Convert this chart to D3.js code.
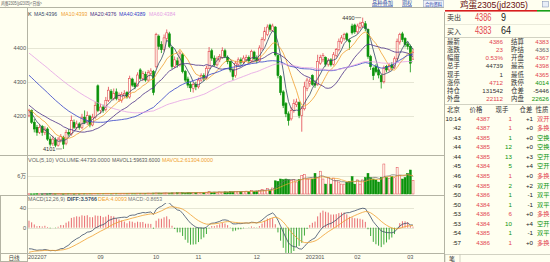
<!DOCTYPE html>
<html>
<head>
<meta charset="utf-8">
<script src="https://cdn.jsdelivr.net/npm/d3@7"></script>
<style>
html, body { margin: 0; padding: 0; background: #fffff0; }
svg { display: block; font-family: "Liberation Sans", "Noto Sans CJK SC", sans-serif; }
</style>
</head>
<body>
<svg id="chart" width="550" height="262"></svg>
<script>
// ---- data ----
const monthLabels = ["202207", "09", "10", "11", "12", "202301", "02", "03"];
const monthStarts = [0, 27, 48, 64, 86, 108, 124, 144];

// closes before the visible window, only used to warm up MA / MACD
const priorCloses = [
  4540,4545,4535,4550,4530,4525,4520,4535,4515,4510,
  4520,4505,4500,4515,4505,4495,4500,4490,4485,4500,
  4470,4465,4455,4460,4440,4445,4430,4420,4425,4410,
  4400,4405,4390,4380,4385,4370,4365,4360,4345,4335,
  4310,4290,4275,4260,4250,4240,4225,4215,4200,4195,
  4205,4220,4230,4215,4225,4210,4220,4215,4200
];

const opens = [
  4200,4215,4180,4165,4150,4168,4150,4160,4130,4118,
  4128,4112,4128,4135,4118,4150,4145,4180,4165,4175,
  4165,4195,4180,4198,4172,4195,4288,4215,4225,4218,
  4245,4272,4250,4270,4248,4245,4258,4268,4255,4308,
  4295,4288,4335,4310,4322,4305,4325,4330,4345,4435,
  4410,4395,4428,4442,4402,4345,4362,4350,4380,4330,
  4308,4292,4280,4292,4285,4305,4318,4312,4340,4392,
  4370,4350,4365,4372,4392,4372,4360,4335,4318,4352,
  4365,4358,4365,4372,4362,4388,4370,4362,4398,4425,
  4440,4468,4452,4462,4378,4315,4270,4235,4205,4190,
  4215,4232,4238,4200,4220,4280,4295,4318,4295,4292,
  4355,4365,4372,4352,4365,4352,4378,4395,4418,4428,
  4442,4422,4465,4468,4448,4460,4465,4472,4455,4375,
  4340,4345,4335,4318,4300,4345,4335,4350,4342,4368,
  4418,4442,4428,4412,4405,4367
];
const highs = [
  4220,4218,4190,4172,4175,4172,4168,4165,4138,4140,
  4135,4136,4145,4140,4158,4160,4200,4188,4185,4180,
  4205,4215,4212,4202,4205,4240,4292,4235,4232,4255,
  4285,4278,4280,4280,4268,4270,4275,4272,4318,4312,
  4300,4328,4340,4332,4330,4335,4340,4335,4445,4440,
  4420,4440,4455,4448,4405,4375,4372,4392,4385,4335,
  4315,4300,4298,4300,4312,4325,4325,4348,4403,4398,
  4378,4375,4382,4402,4398,4378,4362,4340,4362,4372,
  4372,4378,4380,4378,4395,4392,4378,4408,4432,4462,
  4470,4472,4472,4465,4382,4320,4275,4240,4212,4225,
  4248,4250,4242,4228,4300,4312,4310,4322,4305,4380,
  4380,4385,4375,4370,4370,4388,4400,4428,4438,4445,
  4446,4428,4472,4472,4472,4478,4490,4480,4458,4380,
  4345,4352,4340,4322,4348,4350,4355,4358,4375,4428,
  4445,4448,4432,4418,4410,4398
];
const lows = [
  4195,4175,4150,4140,4145,4140,4142,4125,4108,4110,
  4106,4108,4120,4101,4112,4138,4140,4160,4158,4158,
  4160,4175,4172,4165,4168,4190,4210,4205,4208,4212,
  4240,4245,4245,4245,4240,4238,4252,4250,4250,4285,
  4278,4285,4305,4302,4300,4300,4318,4260,4340,4395,
  4385,4390,4420,4400,4338,4340,4342,4345,4325,4298,
  4282,4270,4268,4275,4280,4300,4302,4308,4338,4362,
  4345,4345,4358,4368,4370,4352,4328,4305,4312,4345,
  4350,4352,4360,4355,4358,4362,4355,4358,4392,4420,
  4435,4448,4448,4375,4310,4260,4222,4195,4170,4185,
  4208,4225,4192,4152,4215,4272,4285,4288,4282,4288,
  4350,4358,4345,4345,4345,4348,4372,4390,4412,4422,
  4420,4395,4440,4442,4442,4455,4460,4450,4368,4335,
  4305,4325,4310,4280,4295,4328,4330,4335,4338,4362,
  4410,4418,4402,4395,4328,4365
];
const closes = [
  4215,4180,4160,4150,4165,4150,4160,4130,4115,4130,
  4112,4130,4138,4115,4150,4145,4185,4165,4175,4165,
  4195,4180,4200,4172,4195,4230,4215,4225,4215,4245,
  4275,4250,4265,4250,4260,4262,4265,4255,4310,4290,
  4285,4320,4310,4325,4305,4328,4332,4268,4440,4405,
  4395,4430,4445,4405,4345,4365,4350,4385,4330,4305,
  4290,4282,4292,4285,4305,4318,4310,4340,4390,4370,
  4350,4368,4375,4392,4375,4360,4335,4315,4355,4365,
  4358,4370,4372,4362,4390,4368,4362,4400,4425,4450,
  4462,4455,4465,4380,4318,4268,4230,4205,4185,4215,
  4235,4240,4200,4220,4285,4305,4300,4292,4290,4360,
  4372,4378,4352,4362,4350,4380,4395,4420,4430,4440,
  4425,4418,4445,4448,4465,4472,4475,4458,4375,4345,
  4318,4330,4320,4300,4340,4335,4348,4342,4368,4420,
  4440,4425,4410,4405,4355,4386
];
const volumes = [
  800,600,700,900,650,700,1000,800,1200,900,
  1100,1300,1000,900,1200,1500,1300,1100,1400,1200,
  1600,1500,1300,1700,1400,2000,1800,1500,1700,2100,
  1900,1600,2200,2000,1800,2300,2100,1900,2500,2200,
  2000,2600,2300,2100,2400,2800,2500,3000,3500,3200,
  2800,3300,3600,3000,3800,3400,4200,3900,4500,3600,
  4800,4200,5000,4400,5200,4800,5600,6000,8000,5400,
  6200,5800,7000,6400,7200,6600,8000,7400,9000,8200,
  7600,8800,9400,8000,12000,9000,10000,11000,15000,13000,
  18000,12000,20000,44000,42000,50000,48000,50000,48000,45000,
  48000,40000,48000,61000,65000,50000,50000,50000,69000,55000,
  76000,50000,33000,55000,33000,53000,45000,40000,33000,33000,
  40000,42000,58000,33000,47000,33000,47000,55000,69000,55000,
  50000,47000,40000,55000,100000,55000,52000,58000,54000,89000,
  61872,50000,55000,68429,80000,44739
];

const maPeriods = [5, 10, 20, 40, 60];
const maHeader = ["MA5:4396", "MA10:4393", "MA20:4376", "MA40:4389", "MA60:4384"];
const priceTicks = [4200, 4300, 4400];
const volTicks = [60000];
const macdTicks = [0, 40];

const bookLabels = ["卖出", "买入"];
const bookPrices = [4386, 4383];
const bookSizes = [9, 64];
const infoLabelsL = ["最新", "涨跌", "幅度", "总手", "现手", "涨停", "持仓", "外盘"];
const infoValuesL = ["4386", "23", "0.53%", "44739", "1", "4712", "131542", "22112"];
const infoLabelsR = ["结算", "昨结", "开盘", "最高", "最低", "跌停", "仓差", "内盘"];
const infoValuesR = ["4383", "4363", "4367", "4398", "4365", "4014", "-5446", "22626"];
const tickHeader = ["北京", "价格", "现手", "仓差", "性质"];
const tickTimes = ["10:14", ":42", ":43", ":44", ":44", ":45", ":46", ":49", ":50", ":50", ":53", ":53", ":54", ":57"];
const tickPrices = [4387, 4387, 4385, 4385, 4385, 4384, 4385, 4385, 4386, 4384, 4386, 4384, 4385, 4386];
const tickQty = [1, 1, 1, 12, 13, 5, 1, 2, 1, 1, 6, 10, 1, 1];
const tickOI = ["+1", "+0", "+0", "+0", "+3", "+4", "+0", "+2", "-1", "-1", "+0", "+4", "-1", "+0"];
const tickType = ["双开", "多换", "空换", "空换", "空开", "空开", "多换", "双开", "双平", "双平", "多换", "空开", "双平", "多换"];
const tickSide = ["b", "b", "s", "s", "s", "s", "b", "s", "s", "s", "b", "s", "s", "b"];

// ---- setup ----
const bg = "#fffff0";
const red = "#e2454f", green = "#0b930b", frame = "#b4b4a4", gridC = "#e6e6d4";
const maColors = ["#34486a", "#f0a030", "#4a2f86", "#3340c8", "#e4a0e4"];
const svg = d3.select("#chart");
svg.append("rect").attr("width", 550).attr("height", 262).attr("fill", bg);

const n = closes.length;
const idx = d3.range(n);
const x = d3.scaleBand().domain(idx).range([28, 414]).paddingInner(0.25);
const cx = i => x(i) + x.bandwidth() / 2;
const y = d3.scaleLinear().domain([4200, 4400]).range([115.5, 48]);
const yv = d3.scaleLinear().domain([0, 60000]).range([194, 176]);
const ym = d3.scaleLinear().domain([0, 40]).range([227.7, 207.5]);
const up = i => closes[i] >= opens[i];

// indicators
const allCloses = priorCloses.concat(closes);
const off = priorCloses.length;
function ma(arr, k) {
  return arr.map((v, i) => i < k - 1 ? null : d3.mean(arr.slice(i - k + 1, i + 1)));
}
function ema(arr, k) {
  const a = 2 / (k + 1);
  let e = arr[0];
  return arr.map(v => (e = e + a * (v - e)));
}
const e12 = ema(allCloses, 12), e26 = ema(allCloses, 26);
const diffAll = e12.map((v, i) => v - e26[i]);
const deaAll = ema(diffAll, 9);
const diff = diffAll.slice(off), dea = deaAll.slice(off);
const hist = diff.map((d, i) => 2 * (d - dea[i]));

// clip areas
const defs = svg.append("defs");
defs.append("clipPath").attr("id", "clipP").append("rect").attr("x", 28).attr("y", 9).attr("width", 386).attr("height", 146);
defs.append("clipPath").attr("id", "clipM").append("rect").attr("x", 28).attr("y", 203).attr("width", 386).attr("height", 50);

// ---- frames ----
const fr = svg.append("g").attr("stroke", frame).attr("shape-rendering", "crispEdges");
fr.append("line").attr("x1", 0).attr("x2", 444).attr("y1", 7.5).attr("y2", 7.5);
fr.append("line").attr("x1", 27.5).attr("x2", 27.5).attr("y1", 8).attr("y2", 262);
fr.append("line").attr("x1", 0).attr("x2", 444).attr("y1", 155.5).attr("y2", 155.5);
fr.append("line").attr("x1", 0).attr("x2", 444).attr("y1", 195.5).attr("y2", 195.5);
fr.append("line").attr("x1", 0).attr("x2", 444).attr("y1", 253.5).attr("y2", 253.5);
fr.append("line").attr("x1", 0.5).attr("x2", 0.5).attr("y1", 195.5).attr("y2", 262);
fr.append("line").attr("x1", 444.5).attr("x2", 444.5).attr("y1", 12).attr("y2", 262);

// grid lines
const grid = svg.append("g").attr("stroke", gridC).attr("shape-rendering", "crispEdges");
priceTicks.forEach(t => grid.append("line").attr("x1", 28).attr("x2", 414).attr("y1", Math.round(y(t)) + 0.5).attr("y2", Math.round(y(t)) + 0.5));
volTicks.forEach(t => grid.append("line").attr("x1", 28).attr("x2", 414).attr("y1", Math.round(yv(t)) + 0.5).attr("y2", Math.round(yv(t)) + 0.5));
macdTicks.forEach(t => grid.append("line").attr("x1", 28).attr("x2", 414).attr("y1", Math.round(ym(t)) + 0.5).attr("y2", Math.round(ym(t)) + 0.5));

// ---- axes ----
function styleAxis(g) {
  g.select(".domain").remove();
  g.selectAll("text").attr("font-size", 5.6).attr("fill", "#555").attr("font-family", "Liberation Sans, Noto Sans CJK SC, sans-serif");
}
svg.append("g").attr("transform", "translate(26,0)")
  .call(d3.axisLeft(y).tickValues(priceTicks).tickSize(0).tickPadding(0).tickFormat(d3.format("d"))).call(styleAxis);
svg.append("g").attr("transform", "translate(26,0)")
  .call(d3.axisLeft(yv).tickValues(volTicks).tickSize(0).tickPadding(0).tickFormat(() => "6万")).call(styleAxis);
svg.append("g").attr("transform", "translate(26,0)")
  .call(d3.axisLeft(ym).tickValues(macdTicks).tickSize(0).tickPadding(0).tickFormat(d3.format("d"))).call(styleAxis);
const xa = svg.append("g").attr("transform", "translate(0,253)")
  .call(d3.axisBottom(x).tickValues(monthStarts).tickSize(0).tickPadding(1.6).tickFormat((d, k) => monthLabels[k]))
  .call(styleAxis);
xa.select(".tick text").attr("text-anchor", "start").attr("x", 28 - cx(0));

// ---- candles ----
const gc = svg.append("g").attr("clip-path", "url(#clipP)");
gc.selectAll("line").data(idx).join("line")
  .attr("x1", cx).attr("x2", cx)
  .attr("y1", i => y(highs[i])).attr("y2", i => y(lows[i]))
  .attr("stroke", i => up(i) ? red : green).attr("stroke-width", 0.8);
gc.selectAll("rect").data(idx).join("rect")
  .attr("x", i => x(i)).attr("width", x.bandwidth())
  .attr("y", i => y(Math.max(opens[i], closes[i])))
  .attr("height", i => Math.max(0.8, Math.abs(y(opens[i]) - y(closes[i]))))
  .attr("fill", i => up(i) ? bg : green)
  .attr("stroke", i => up(i) ? red : green).attr("stroke-width", 0.6);

// moving averages
maPeriods.forEach((p, k) => {
  const vals = ma(allCloses, p).slice(off);
  gc.append("path").datum(idx)
    .attr("fill", "none").attr("stroke", maColors[k]).attr("stroke-width", 0.8)
    .attr("d", d3.line().defined(i => vals[i] != null).x(cx).y(i => y(vals[i])));
});

// high / low markers
const hiI = d3.maxIndex(highs), loI = d3.minIndex(lows);
[[hiI, highs[hiI]], [loI, lows[loI]]].forEach(([i, v]) => {
  const yy = y(v);
  svg.append("line").attr("x1", cx(i) - 7.5).attr("x2", cx(i) - 1.5).attr("y1", yy).attr("y2", yy)
    .attr("stroke", "#444").attr("stroke-width", 0.5);
  svg.append("text").attr("x", cx(i) - 8).attr("y", yy + 2).attr("text-anchor", "end")
    .attr("font-size", 5.6).attr("fill", "#333").text(v);
});

// ---- volume ----
const gv = svg.append("g");
gv.selectAll("rect").data(idx).join("rect")
  .attr("x", i => x(i)).attr("width", x.bandwidth())
  .attr("y", i => yv(volumes[i])).attr("height", i => Math.max(0.5, yv(0) - yv(volumes[i])))
  .attr("fill", i => up(i) ? bg : green)
  .attr("stroke", i => up(i) ? red : green).attr("stroke-width", 0.5);
[[5, "#6a6a6a"], [10, "#f0a030"]].forEach(([p, c]) => {
  const vals = ma(volumes, p);
  gv.append("path").datum(idx).attr("fill", "none").attr("stroke", c).attr("stroke-width", 0.7)
    .attr("d", d3.line().defined(i => vals[i] != null).x(cx).y(i => yv(vals[i])));
});

// ---- MACD ----
const gm = svg.append("g").attr("clip-path", "url(#clipM)");
gm.selectAll("line").data(idx).join("line")
  .attr("x1", cx).attr("x2", cx)
  .attr("y1", ym(0)).attr("y2", i => ym(hist[i]))
  .attr("stroke", i => hist[i] >= 0 ? red : green).attr("stroke-width", 0.8);
gm.append("path").datum(idx).attr("fill", "none").attr("stroke", "#3c4d68").attr("stroke-width", 0.8)
  .attr("d", d3.line().x(cx).y(i => ym(diff[i])));
gm.append("path").datum(idx).attr("fill", "none").attr("stroke", "#f0a030").attr("stroke-width", 0.8)
  .attr("d", d3.line().x(cx).y(i => ym(dea[i])));

// ---- header texts ----
function label(txt, xx, yy, opt = {}) {
  const t = svg.append("text").attr("x", xx).attr("y", yy)
    .attr("font-size", opt.size || 5.6).attr("fill", opt.color || "#555")
    .attr("text-anchor", opt.anchor || "start").text(txt);
  if (opt.len) t.attr("textLength", opt.len).attr("lengthAdjust", "spacingAndGlyphs");
  if (opt.weight) t.attr("font-weight", opt.weight);
  if (opt.family) t.attr("font-family", opt.family);
  return t;
}
label("鸡蛋2305(jd2305)<日线>", 1, 5.4, { size: 5, color: "#666", len: 41 });
label("品种叠加", 372, 5.4, { size: 5.2, color: "#2a44a8", len: 21 }).attr("text-decoration", "underline");
label("期权", 402, 5.4, { size: 5.2, color: "#2a44a8", len: 10 }).attr("text-decoration", "underline");
svg.append("rect").attr("x", 423.5).attr("y", 0.5).attr("width", 20).attr("height", 6.5)
  .attr("fill", "#eef2fa").attr("stroke", "#8a9ac0").attr("stroke-width", 0.5);
label("合约资料", 433.5, 5.6, { size: 4.6, color: "#2a44a8", anchor: "middle", len: 17 });

label("K", 28, 16.3, { color: "#333" });
const maX = [34, 61, 90, 119, 149];
maHeader.forEach((t, k) => label(t, maX[k], 16.3, { color: maColors[k], len: k === 0 ? 23 : 26.5 }));

label("VOL(5,10) VOLUME:44739.0000", 28, 162, { color: "#666", len: 82 });
label("MAVOL1:59633.6000", 112, 162, { color: "#555", len: 48 });
label("MAVOL2:61304.0000", 162, 162, { color: "#f0a030", len: 51 });

label("MACD(12,26,9)", 28, 201, { color: "#666", len: 37 });
label("DIFF:3.5766", 67, 201, { color: "#3c4d68", len: 30, weight: "bold" });
label("DEA:4.0093", 98, 201, { color: "#f0a030", len: 29 });
label("MACD:-0.8653", 128, 201, { color: "#777", len: 34 });

svg.append("rect").attr("x", 0.5).attr("y", 253.5).attr("width", 27).attr("height", 8)
  .attr("fill", "none").attr("stroke", frame).attr("shape-rendering", "crispEdges");
label("日线", 14, 260, { size: 5.6, color: "#444", anchor: "middle" });

// ---- right panel ----
label("鸡蛋2305(jd2305)", 494, 8.2, { size: 8.6, color: "#6a1010", anchor: "middle", len: 68 });
svg.append("rect").attr("x", 445).attr("y", 10).attr("width", 92).attr("height", 1.6).attr("fill", "#d81e1e");
svg.append("rect").attr("x", 537).attr("y", 10).attr("width", 13).attr("height", 1.6).attr("fill", "#18a018");
svg.append("rect").attr("x", 542.5).attr("y", 1.5).attr("width", 6).attr("height", 5.5)
  .attr("fill", "#e8eef8").attr("stroke", "#7b8ab0").attr("stroke-width", 0.5);

const rp = svg.append("g").attr("stroke", frame).attr("stroke-width", 0.6).attr("shape-rendering", "crispEdges");
rp.append("line").attr("x1", 445).attr("x2", 550).attr("y1", 24.5).attr("y2", 24.5).attr("stroke", "#dcdccc");
rp.append("line").attr("x1", 445).attr("x2", 550).attr("y1", 37.5).attr("y2", 37.5);
rp.append("line").attr("x1", 445).attr("x2", 550).attr("y1", 104.5).attr("y2", 104.5);

bookLabels.forEach((t, k) => {
  const yy = 20.5 + k * 13.6;
  label(t, 447, yy - 0.5, { size: 7, color: "#333", family: "Noto Sans CJK SC" });
  label(bookPrices[k], 475, yy, { size: 10.5, color: red, len: 16.5 });
  label(bookSizes[k], 501, yy, { size: 10.5, color: "#222", len: String(bookSizes[k]).length * 5 });
});

const settle = 4363;
function toneOf(lbl, v) {
  if (["总手", "持仓", "仓差"].includes(lbl)) return "#333";
  if (lbl === "外盘") return red;
  if (lbl === "内盘") return green;
  if (lbl === "现手") return "#333";
  if (lbl === "涨跌" || lbl === "幅度") return parseFloat(v) >= 0 ? red : green;
  const num = +v;
  return num > settle ? red : num < settle ? green : "#666";
}
infoLabelsL.forEach((t, k) => {
  const yy = 43.8 + k * 8.2;
  label(t, 447, yy, { size: 6.4, color: "#333", family: "Noto Sans CJK SC" });
  label(infoValuesL[k], 503, yy, { size: 6.2, color: toneOf(t, infoValuesL[k]), anchor: "end" });
  label(infoLabelsR[k], 511, yy, { size: 6.4, color: "#333", family: "Noto Sans CJK SC" });
  label(infoValuesR[k], 549, yy, { size: 6.2, color: toneOf(infoLabelsR[k], infoValuesR[k]), anchor: "end" });
});

const hdrX = [447, 476, 502, 526, 542];
tickHeader.forEach((t, k) => label(t, hdrX[k], 112.4, { size: 6.4, color: "#333", anchor: k ? "middle" : "start", family: "Noto Sans CJK SC" }));
tickTimes.forEach((t, k) => {
  const yy = 120.6 + k * 9.57;
  const c = tickSide[k] === "b" ? red : green;
  label(t, 461, yy, { size: 6.2, color: "#222", anchor: "end" });
  label(tickPrices[k], 490, yy, { size: 6.2, color: red, anchor: "end" });
  label(tickQty[k], 512, yy, { size: 6.2, color: c, anchor: "end" });
  label(tickOI[k], 533, yy, { size: 6.2, color: "#222", anchor: "end" });
  label(tickType[k], 537, yy, { size: 6.2, color: c, family: "Noto Sans CJK SC" });
});

// bottom tab
rp.append("line").attr("x1", 460).attr("x2", 550).attr("y1", 254.5).attr("y2", 254.5);
svg.append("path").attr("d", "M445,254.5 H460 V262 M445,254.5 V262").attr("fill", "none")
  .attr("stroke", frame).attr("stroke-width", 0.6);
label("笔", 449, 261, { size: 6, color: "#333", family: "Noto Sans CJK SC" });
</script>
</body>
</html>
